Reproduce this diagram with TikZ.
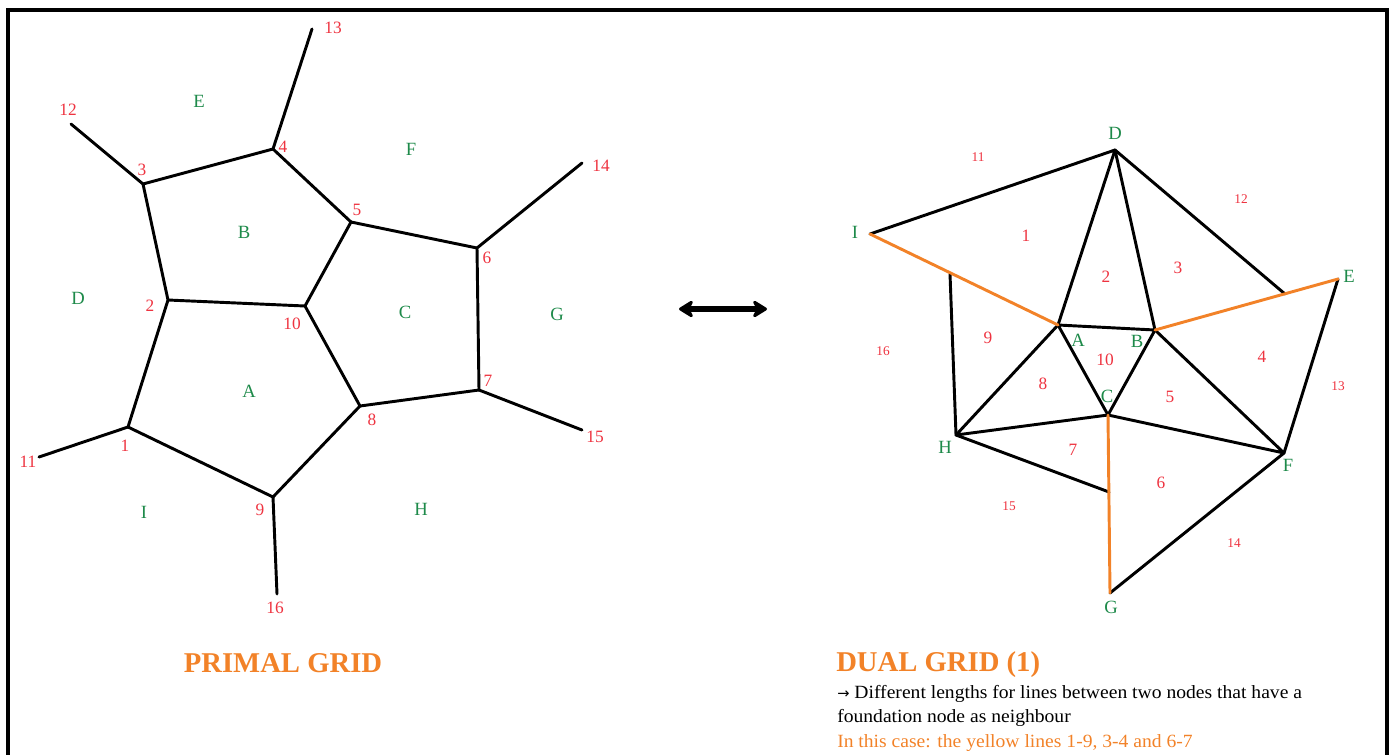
\documentclass[tikz,border=0pt]{standalone}
\usepackage{fontspec}
\setmainfont{Liberation Serif}
\newfontfamily\arrowfont{DejaVu Sans}
\newfontfamily\notefont[FakeStretch=1.05]{Liberation Serif}
\usetikzlibrary{arrows.meta}
\definecolor{gridred}{HTML}{EE3340}
\definecolor{gridgreen}{HTML}{1E8A4A}
\definecolor{gridorange}{HTML}{F28228}
\begin{document}
\begin{tikzpicture}[x=0.75pt,y=-0.75pt,
  edge/.style={line width=2.2pt, line cap=round, line join=round},
  hiedge/.style={edge, gridorange},
  vnum/.style={text=gridred, font=\fontsize{13pt}{13pt}\selectfont, inner sep=0pt},
  cellname/.style={text=gridgreen, font=\fontsize{14pt}{14pt}\selectfont, inner sep=0pt},
  dnum/.style={text=gridred, font=\fontsize{13pt}{13pt}\selectfont, inner sep=0pt},
  snum/.style={text=gridred, font=\fontsize{10pt}{10pt}\selectfont, inner sep=0pt},
  heading/.style={text=gridorange, font=\bfseries\fontsize{21.5pt}{21.5pt}\selectfont, inner sep=0pt},
  bodytext/.style={font=\notefont\fontsize{14pt}{14pt}\selectfont, inner sep=0pt, anchor=base west}]
\useasboundingbox (0,0) rectangle (1394,754);

% frame, open at the bottom
\draw[line width=2.4pt] (8,780) -- (8,10) -- (1387,10) -- (1387,780);

% ---------- primal grid ----------
\coordinate (p1) at (128,427);
\coordinate (p2) at (168,300);
\coordinate (p3) at (143,184);
\coordinate (p4) at (273,149);
\coordinate (p5) at (351,222);
\coordinate (p6) at (477,248);
\coordinate (p7) at (479,390);
\coordinate (p8) at (360,406);
\coordinate (p9) at (273,497);
\coordinate (p10) at (305,306);
\coordinate (p11) at (39,457);
\coordinate (p12) at (71,124);
\coordinate (p13) at (312,29);
\coordinate (p14) at (582,163);
\coordinate (p15) at (582,430);
\coordinate (p16) at (277,594);

\draw[edge] (p1) -- (p2) -- (p3) -- (p4) -- (p5) -- (p10) -- (p2);
\draw[edge] (p10) -- (p8) -- (p9) -- (p1);
\draw[edge] (p5) -- (p6) -- (p7) -- (p8);
\draw[edge] (p1) -- (p11);
\draw[edge] (p3) -- (p12);
\draw[edge] (p4) -- (p13);
\draw[edge] (p6) -- (p14);
\draw[edge] (p7) -- (p15);
\draw[edge] (p9) -- (p16);

\node[vnum] (n1) at (125,446) {1};
\node[vnum] (n2) at (150,306) {2};
\node[vnum] (n3) at (142,170) {3};
\node[vnum] (n4) at (283,147) {4};
\node[vnum] (n5) at (357,210) {5};
\node[vnum] (n6) at (487,258) {6};
\node[vnum] (n7) at (488,381) {7};
\node[vnum] (n8) at (372,420) {8};
\node[vnum] (n9) at (260,510) {9};
\node[vnum] (n10) at (292,324) {10};
\node[vnum] (n11) at (28,462) {11};
\node[vnum] (n12) at (68,110) {12};
\node[vnum] (n13) at (333,28) {13};
\node[vnum] (n14) at (601,166) {14};
\node[vnum] (n15) at (595,437) {15};
\node[vnum] (n16) at (275,608) {16};

\node[cellname] (cE) at (199,101) {E};
\node[cellname] (cF) at (411,149) {F};
\node[cellname] (cB) at (244,232) {B};
\node[cellname] (cD) at (78,298) {D};
\node[cellname] (cC) at (405,312) {C};
\node[cellname] (cG) at (557,314) {G};
\node[cellname] (cA) at (249,391) {A};
\node[cellname] (cI) at (144,512) {I};
\node[cellname] (cH) at (421,509) {H};

\node[heading] (primaltitle) at (283,663) {PRIMAL GRID};

% ---------- double arrow between the grids ----------
\coordinate (arrL) at (679,309);
\coordinate (arrR) at (767,309);
\draw[line width=4.2pt, {Stealth[length=13pt,width=16pt,round]}-{Stealth[length=13pt,width=16pt,round]}] (arrL) -- (arrR);

% ---------- dual grid ----------
\coordinate (dD) at (1115,150);
\coordinate (dI) at (870,234);
\coordinate (dE) at (1338,279);
\coordinate (dA) at (1058,325);
\coordinate (dB) at (1155,330);
\coordinate (dC) at (1108,415);
\coordinate (dH) at (956,435);
\coordinate (dF) at (1284,453);
\coordinate (dG) at (1110,593);
\coordinate (jIA) at (950,274);
\coordinate (jBE) at (1285,294);
\coordinate (jCG) at (1109,492);

\draw[edge] (dI) -- (dD) -- (dA);
\draw[edge] (dD) -- (dB);
\draw[edge] (dD) -- (jBE);
\draw[edge] (dA) -- (dB) -- (dC) -- (dA);
\draw[edge] (dA) -- (dH) -- (dC) -- (dF) -- (dB);
\draw[edge] (jIA) -- (dH) -- (jCG);
\draw[edge] (dE) -- (dF) -- (dG);
\draw[hiedge] (dI) -- (dA);
\draw[hiedge] (dB) -- (dE);
\draw[hiedge] (dC) -- (dG);

\node[cellname] (lD) at (1115,133) {D};
\node[cellname] (lI) at (855,232) {I};
\node[cellname] (lE) at (1349,276) {E};
\node[cellname] (lA) at (1078,340) {A};
\node[cellname] (lB) at (1137,341) {B};
\node[cellname] (lC) at (1107,396) {C};
\node[cellname] (lH) at (945,447) {H};
\node[cellname] (lF) at (1288,465) {F};
\node[cellname] (lG) at (1111,607) {G};

\node[dnum] (m1) at (1026,236) {1};
\node[dnum] (m2) at (1106,277) {2};
\node[dnum] (m3) at (1178,268) {3};
\node[dnum] (m4) at (1262,357) {4};
\node[dnum] (m5) at (1170,397) {5};
\node[dnum] (m6) at (1161,483) {6};
\node[dnum] (m7) at (1073,450) {7};
\node[dnum] (m8) at (1043,384) {8};
\node[dnum] (m9) at (988,338) {9};
\node[dnum] (m10) at (1105,360) {10};
\node[snum] (m11) at (978,157) {11};
\node[snum] (m12) at (1241,199) {12};
\node[snum] (m13) at (1338,386) {13};
\node[snum] (m14) at (1234,543) {14};
\node[snum] (m15) at (1009,506) {15};
\node[snum] (m16) at (883,351) {16};

\node[heading, anchor=base west] (dualtitle) at (836,671) {DUAL GRID (1)};
\node[bodytext] (noteA) at (837,698) {{\arrowfont\fontsize{11pt}{11pt}\selectfont →} Different lengths for lines between two nodes that have a};
\node[bodytext] (noteB) at (837,722) {foundation node as neighbour};
\node[bodytext, text=gridorange] (noteC) at (837,747) {In this case: the yellow lines 1-9, 3-4 and 6-7};
\end{tikzpicture}
\end{document}
